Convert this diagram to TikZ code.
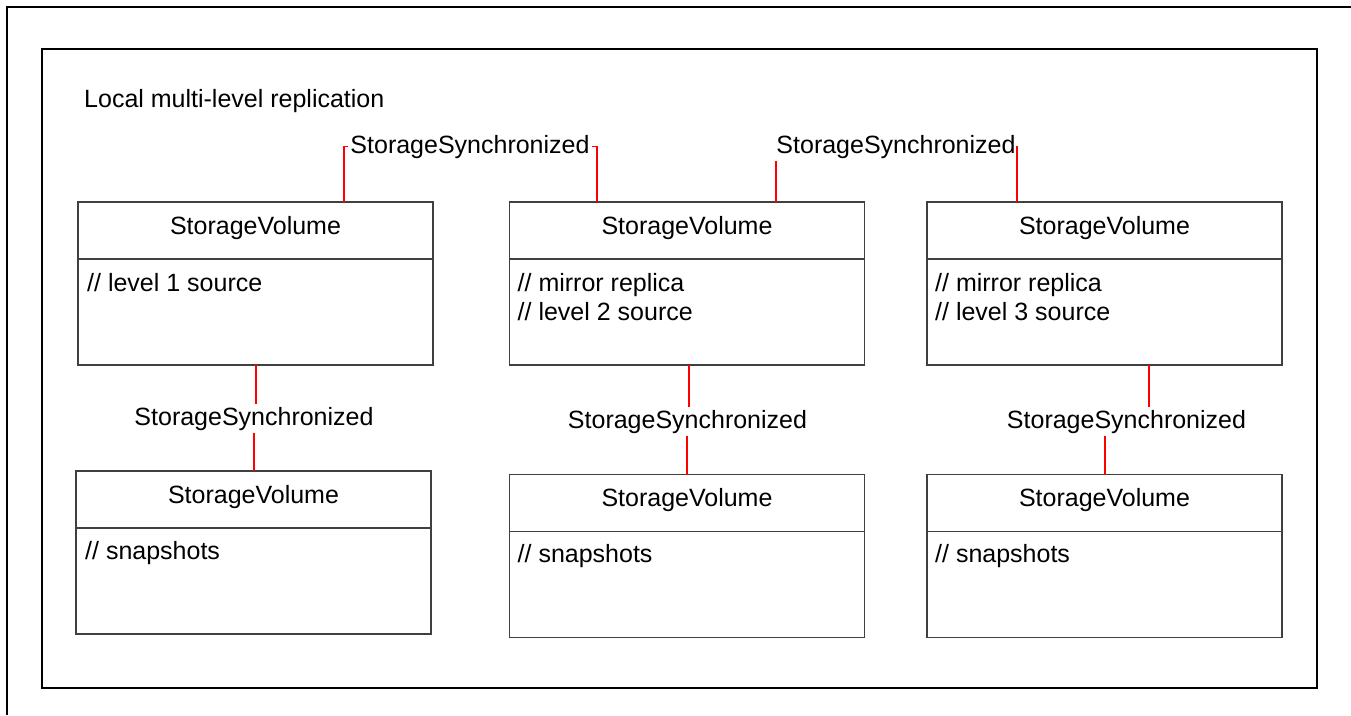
\documentclass[tikz,border=0pt]{standalone}
\usepackage{fontspec}
\setmainfont{Liberation Sans}
\definecolor{boxgray}{HTML}{404040}
\definecolor{linkred}{HTML}{FF0000}
\begin{document}
\begin{tikzpicture}[x=1pt,y=-1pt,
  frame/.style={draw=black, line width=2pt},
  umlbox/.style={draw=boxgray, line width=1.3pt, minimum width=355pt, minimum height=163pt, inner sep=0pt, outer sep=0pt},
  divider/.style={draw=boxgray, line width=1.3pt},
  txt/.style={font=\fontsize{25}{29}\selectfont, inner sep=0pt, text=black},
  lbl/.style={font=\fontsize{25}{29}\selectfont, inner sep=2.5pt, text=black},
  conn/.style={draw=linkred, line width=1.5pt}]
\useasboundingbox (0,0) rectangle (1351,715);
% outer and inner frames
\draw[frame] (7,715) -- (7,7) -- (1351,7);
\draw[frame] (42,49) rectangle (1317,688);
\node[txt, anchor=base west] (title) at (84,107) {Local multi-level replication};
% boxes
\node[umlbox] (A) at (255.5,283.5) {};
\node[umlbox] (B) at (687,283.5) {};
\node[umlbox] (C) at (1104.5,283.5) {};
\node[umlbox] (D) at (253.5,552.5) {};
\node[umlbox] (E) at (687,556) {};
\node[umlbox] (F) at (1104.5,556) {};
\foreach \b in {A,B,C,D,E,F}{
  \draw[divider] ([yshift=-57pt]\b.north west) -- ([yshift=-57pt]\b.north east);
  \node[txt, anchor=base] (\b t) at ([yshift=-32pt]\b.north) {StorageVolume};
}
\node[txt, anchor=base west] (A1) at ([xshift=9pt,yshift=-89pt]A.north west) {// level 1 source};
\node[txt, anchor=base west] (B1) at ([xshift=8pt,yshift=-89pt]B.north west) {// mirror replica};
\node[txt, anchor=base west] (B2) at ([xshift=8pt,yshift=-118pt]B.north west) {// level 2 source};
\node[txt, anchor=base west] (C1) at ([xshift=8pt,yshift=-89pt]C.north west) {// mirror replica};
\node[txt, anchor=base west] (C2) at ([xshift=8pt,yshift=-118pt]C.north west) {// level 3 source};
\node[txt, anchor=base west] (D1) at ([xshift=9pt,yshift=-88pt]D.north west) {// snapshots};
\node[txt, anchor=base west] (E1) at ([xshift=8pt,yshift=-88pt]E.north west) {// snapshots};
\node[txt, anchor=base west] (F1) at ([xshift=8pt,yshift=-88pt]F.north west) {// snapshots};
% connector labels
\node[lbl, anchor=base] (L1) at (470,153) {StorageSynchronized};
\node[lbl, anchor=base] (L2) at (896,153) {StorageSynchronized};
\node[lbl, anchor=base] (L3) at (254,425) {StorageSynchronized};
\node[lbl, anchor=base] (L4) at (687.5,428) {StorageSynchronized};
\node[lbl, anchor=base] (L5) at (1126.5,428) {StorageSynchronized};
% connector end points
\coordinate (Aa) at ([xshift=-89pt]A.north east);
\coordinate (Ba) at ([xshift=87.5pt]B.north west);
\coordinate (Bb) at ([xshift=-88.5pt]B.north east);
\coordinate (Ca) at ([xshift=90pt]C.north west);
\coordinate (As) at ([xshift=0.5pt]A.south);
\coordinate (Dn) at ([xshift=0.5pt]D.north);
\coordinate (Bs) at ([xshift=2pt]B.south);
\coordinate (Cs) at ([xshift=44.5pt]C.south);
\coordinate (Fn) at ([xshift=0.5pt]F.north);
% top connectors
\draw[conn] (L1.west) -| (Aa);
\draw[conn] (L1.east) -| (Ba);
\draw[conn] (Bb |- L2.south) -- (Bb);
\draw[conn] (L2.east) -| (Ca);
% bottom connectors
\draw[conn] (As) -- (As |- L3.north);
\draw[conn] (L3.south -| Dn) -- (Dn);
\draw[conn] (Bs) -- (Bs |- L4.north);
\draw[conn] (L4.south -| E.north) -- (E.north);
\draw[conn] (Cs) -- (Cs |- L5.north);
\draw[conn] (L5.south -| Fn) -- (Fn);
\end{tikzpicture}
\end{document}
